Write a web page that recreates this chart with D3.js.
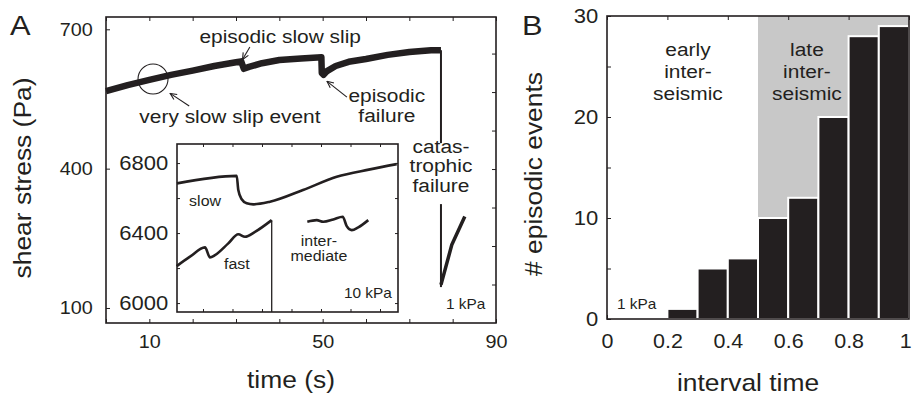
<!DOCTYPE html>
<html>
<head>
<meta charset="utf-8">
<script src="https://cdn.jsdelivr.net/npm/d3@7"></script>
<style>
  body { margin: 0; background: #fff; }
  text { font-family: "Liberation Sans", Arial, sans-serif; fill: #231f20; }
</style>
</head>
<body>
<svg id="chart" width="912" height="405"></svg>
<script>
// ---- panel A: shear stress record ----
const mainTime = [0, 5, 10, 15, 20, 25, 30, 31.2, 31.8, 33, 36, 40, 45, 49.7, 49.8, 50.2, 51, 53, 56, 60, 65, 70, 75, 77.3];
const mainStress = [567, 580, 591, 602, 611, 621, 629, 631, 615, 619, 627, 634, 637, 640, 606, 602, 610, 621, 630, 636, 645, 651, 655, 655];
const dropTime = [77.3, 77.3];
const dropStress = [655, 145];
const recoveryTime = [77.3, 79.8, 82.8];
const recoveryStress = [150, 236, 297];

const stressTicks = [100, 400, 700];
const timeTicks = [0, 10, 20, 30, 40, 50, 60, 70, 80, 90];
const timeLabels = [10, 50, 90];
const rightTicks = [1, 2, 3, 4, 5, 6, 7];

// inset (10 kPa)
const slowX = [0.119, 2.142, 2.197, 2.312, 2.481, 2.705, 3.271, 4.39, 5.532, 6.661, 7.566];
const slowY = [6684, 6727, 6646, 6593, 6570, 6564, 6579, 6646, 6722, 6764, 6794];
const fastX = [0.108, 0.559, 1.068, 1.237, 1.407, 1.858, 2.197, 2.424, 2.763, 3.329];
const fastY = [6211, 6265, 6318, 6261, 6274, 6341, 6393, 6379, 6407, 6474];
const fastDropX = [3.329, 3.329];
const fastDropY = [6474, 5949];
const midX = [4.536, 4.854, 5.078, 5.417, 5.736, 5.871, 6.041, 6.264, 6.603];
const midY = [6465, 6474, 6465, 6478, 6493, 6440, 6417, 6433, 6474];
const insetTicksY = [6000, 6200, 6400, 6600, 6800];
const insetLabelsY = [6000, 6400, 6800];
const insetTicksX = [1, 2, 3, 4, 5, 6, 7];

// ---- panel B: histogram ----
const binStart = [0, 0.1, 0.2, 0.3, 0.4, 0.5, 0.6, 0.7, 0.8, 0.9];
const binCount = [0, 0, 1, 5, 6, 10, 12, 20, 28, 29];
const countTicks = [0, 5, 10, 15, 20, 25, 30];
const countLabels = [0, 10, 20, 30];
const intervalTicks = [0, 0.2, 0.4, 0.6, 0.8, 1];
const lateStart = 0.5;
const lateFloor = 10;

const INK = "#231f20";
const SX = 1.1;   // the original lettering is a little wider than Arial

const svg = d3.select("#chart");

function label(g, x, y, str, size, anchor = "middle", rot = 0) {
  return g.append("text")
    .attr("transform", `translate(${x},${y}) rotate(${rot}) scale(${SX},1)`)
    .attr("text-anchor", anchor)
    .style("font-size", size + "px")
    .text(str);
}

function styleAxis(g, size) {
  g.select(".domain").remove();
  g.attr("color", INK).style("font-size", size + "px");
  g.selectAll("line").attr("stroke-width", 1);
  g.selectAll("text").attr("transform", `scale(${SX},1)`);
}

// ================= panel A =================
const A = { left: 106, right: 496, top: 17, bottom: 323 };
const x = d3.scaleLinear().domain([0, 90]).range([A.left, A.right]);
const y = d3.scaleLinear().domain([67.7, 726.5]).range([A.bottom, A.top]);
const yRight = d3.scaleLinear().domain([0, 7.95]).range([A.bottom, A.top]);

const gA = svg.append("g");

gA.append("g").attr("transform", `translate(0,${A.bottom})`)
  .call(d3.axisBottom(x).tickValues(timeTicks).tickSizeInner(-4).tickSizeOuter(0).tickPadding(12)
    .tickFormat(d => timeLabels.includes(d) ? d : ""))
  .call(styleAxis, 18);
gA.append("g").attr("transform", `translate(0,${A.top})`)
  .call(d3.axisTop(x).tickValues(timeTicks).tickSizeInner(-4).tickSizeOuter(0).tickFormat(""))
  .call(styleAxis, 18);
gA.append("g").attr("transform", `translate(${A.left},0)`)
  .call(d3.axisLeft(y).tickValues(stressTicks).tickSizeInner(-4).tickSizeOuter(0).tickPadding(12))
  .call(styleAxis, 18);
gA.append("g").attr("transform", `translate(${A.right},0)`)
  .call(d3.axisRight(yRight).tickValues(rightTicks).tickSizeInner(-4).tickSizeOuter(0).tickFormat(""))
  .call(styleAxis, 18);

const line = d3.line().x(d => x(d[0])).y(d => y(d[1]));
gA.append("path")
  .attr("d", line(d3.zip(mainTime, mainStress)))
  .attr("fill", "none").attr("stroke", INK).attr("stroke-width", 6.5)
  .attr("stroke-linejoin", "round");
gA.append("path")
  .attr("d", line(d3.zip(dropTime, dropStress)))
  .attr("fill", "none").attr("stroke", INK).attr("stroke-width", 2);
gA.append("path")
  .attr("d", line(d3.zip(recoveryTime, recoveryStress)))
  .attr("fill", "none").attr("stroke", INK).attr("stroke-width", 3.5)
  .attr("stroke-linejoin", "round");

// arrows
const defs = svg.append("defs");
defs.append("marker")
  .attr("id", "head").attr("viewBox", "0 0 8 8").attr("refX", 7.5).attr("refY", 4)
  .attr("markerWidth", 8).attr("markerHeight", 8).attr("markerUnits", "userSpaceOnUse")
  .attr("orient", "auto")
  .append("path").attr("d", "M1,1 L7.5,4 L1,7").attr("fill", "none")
  .attr("stroke", INK).attr("stroke-width", 1.1);

const arrows = [
  [[33.2, 662], [31.5, 635]],
  [[19.2, 535], [14.8, 562]],
  [[55.6, 554], [51.0, 588]]
];
arrows.forEach(a => {
  gA.append("line")
    .attr("x1", x(a[0][0])).attr("y1", y(a[0][1]))
    .attr("x2", x(a[1][0])).attr("y2", y(a[1][1]))
    .attr("stroke", INK).attr("stroke-width", 1.1)
    .attr("marker-end", "url(#head)");
});

gA.append("circle")
  .attr("cx", x(10.85)).attr("cy", y(593)).attr("r", 15)
  .attr("fill", "none").attr("stroke", INK).attr("stroke-width", 1.1);

label(gA, x(40.2), y(670), "episodic slow slip", 19);
label(gA, x(28.6), y(498), "very slow slip event", 19);
label(gA, x(64.8), y(543), "episodic", 19);
label(gA, x(64.8), y(500), "failure", 19);

// catastrophic failure text sits on a white patch that breaks the drop line
gA.append("rect")
  .attr("x", x(74.1)).attr("y", y(455)).attr("width", 62).attr("height", 61)
  .attr("fill", "#fff");
const catLines = ["catas-", "trophic", "failure"];
const catLevels = [434, 393, 350];
catLines.forEach((s, i) => label(gA, x(77.3), y(catLevels[i]), s, 19));
label(gA, x(83), y(98), "1 kPa", 14);

// inset
const I = { left: 177, right: 398, top: 144, bottom: 312 };
const xi = d3.scaleLinear().domain([0.119, 7.61]).range([I.left, I.right]);
const yi = d3.scaleLinear().domain([5949, 6909]).range([I.bottom, I.top]);

gA.append("rect")
  .attr("x", I.left).attr("y", I.top)
  .attr("width", I.right - I.left).attr("height", I.bottom - I.top)
  .attr("fill", "#fff");

gA.append("g").attr("transform", `translate(0,${I.bottom})`)
  .call(d3.axisBottom(xi).tickValues(insetTicksX).tickSizeInner(-3).tickSizeOuter(0).tickFormat(""))
  .call(styleAxis, 20);
gA.append("g").attr("transform", `translate(0,${I.top})`)
  .call(d3.axisTop(xi).tickValues(insetTicksX).tickSizeInner(-3).tickSizeOuter(0).tickFormat(""))
  .call(styleAxis, 20);
gA.append("g").attr("transform", `translate(${I.left},0)`)
  .call(d3.axisLeft(yi).tickValues(insetTicksY).tickSizeInner(-3).tickSizeOuter(0).tickPadding(8)
    .tickFormat(d => insetLabelsY.includes(d) ? d : ""))
  .call(styleAxis, 20);
gA.append("g").attr("transform", `translate(${I.right},0)`)
  .call(d3.axisRight(yi).tickValues(insetTicksY).tickSizeInner(-3).tickSizeOuter(0).tickFormat(""))
  .call(styleAxis, 20);

const lineI = d3.line().x(d => xi(d[0])).y(d => yi(d[1])).curve(d3.curveMonotoneX);
const lineIStraight = d3.line().x(d => xi(d[0])).y(d => yi(d[1]));
[[slowX, slowY, 2.6, lineI], [fastX, fastY, 2.6, lineI], [midX, midY, 2.6, lineI],
 [fastDropX, fastDropY, 1.3, lineIStraight]]
  .forEach(([xs, ys, w, gen]) => {
    gA.append("path")
      .attr("d", gen(d3.zip(xs, ys)))
      .attr("fill", "none").attr("stroke", INK).attr("stroke-width", w)
      .attr("stroke-linejoin", "round");
  });

gA.append("rect")
  .attr("x", I.left).attr("y", I.top)
  .attr("width", I.right - I.left).attr("height", I.bottom - I.top)
  .attr("fill", "none").attr("stroke", INK).attr("stroke-width", 1.6);

label(gA, xi(1.07), yi(6554), "slow", 14.5);
label(gA, xi(2.15), yi(6194), "fast", 14.5);
label(gA, xi(4.93), yi(6326), "inter-", 14.5);
label(gA, xi(4.93), yi(6240), "mediate", 14.5);
label(gA, xi(7.4), yi(6029), "10 kPa", 14, "end");

gA.append("rect")
  .attr("x", A.left).attr("y", A.top)
  .attr("width", A.right - A.left).attr("height", A.bottom - A.top)
  .attr("fill", "none").attr("stroke", INK).attr("stroke-width", 1.6);

label(gA, 10, 35, "A", 28, "start");
label(gA, 291, 388, "time (s)", 24);
label(gA, 31, 178, "shear stress (Pa)", 24, "middle", -90);

// ================= panel B =================
const B = { left: 607, right: 909, top: 16, bottom: 319 };
const xb = d3.scaleLinear().domain([0, 1]).range([B.left, B.right]);
const yb = d3.scaleLinear().domain([0, 30]).range([B.bottom, B.top]);
const gB = svg.append("g");

gB.append("rect")
  .attr("x", xb(lateStart)).attr("y", yb(30))
  .attr("width", xb(1) - xb(lateStart)).attr("height", yb(lateFloor) - yb(30))
  .attr("fill", "#c8c8c8");

gB.append("g").attr("transform", `translate(0,${B.bottom})`)
  .call(d3.axisBottom(xb).tickValues(intervalTicks).tickSizeInner(-4).tickSizeOuter(0).tickPadding(15)
    .tickFormat(d3.format("~g")))
  .call(styleAxis, 19.5)
  .call(g => g.selectAll(".tick text").filter(d => d === 1)
    .attr("text-anchor", "end").attr("x", 2));
gB.append("g").attr("transform", `translate(0,${B.top})`)
  .call(d3.axisTop(xb).tickValues(intervalTicks).tickSizeInner(-4).tickSizeOuter(0).tickFormat(""))
  .call(styleAxis, 19.5);
gB.append("g").attr("transform", `translate(${B.left},0)`)
  .call(d3.axisLeft(yb).tickValues(countTicks).tickSizeInner(-4).tickSizeOuter(0).tickPadding(8)
    .tickFormat(d => countLabels.includes(d) ? d : ""))
  .call(styleAxis, 20);

gB.selectAll("rect.bar")
  .data(d3.zip(binStart, binCount).filter(d => d[1] > 0))
  .enter().append("rect")
  .attr("class", "bar")
  .attr("x", d => xb(d[0]))
  .attr("y", d => yb(d[1]))
  .attr("width", xb(0.1) - xb(0))
  .attr("height", d => yb(0) - yb(d[1]))
  .attr("fill", INK).attr("stroke", "#fff").attr("stroke-width", 2);

gB.append("rect")
  .attr("x", B.left).attr("y", B.top)
  .attr("width", B.right - B.left).attr("height", B.bottom - B.top)
  .attr("fill", "none").attr("stroke", INK).attr("stroke-width", 1.6);

const phaseLines = ["inter-", "seismic"];
const phaseLevels = [26, 23.9, 21.7];
label(gB, xb(0.268), yb(phaseLevels[0]), "early", 19);
label(gB, xb(0.662), yb(phaseLevels[0]), "late", 19);
phaseLines.forEach((s, i) => {
  label(gB, xb(0.268), yb(phaseLevels[i + 1]), s, 19);
  label(gB, xb(0.662), yb(phaseLevels[i + 1]), s, 19);
});
label(gB, xb(0.033), yb(1), "1 kPa", 14, "start");

label(gB, 522, 35, "B", 28, "start");
label(gB, 748, 391, "interval time", 24);
label(gB, 542, 174, "# episodic events", 24, "middle", -90);
</script>
</body>
</html>
